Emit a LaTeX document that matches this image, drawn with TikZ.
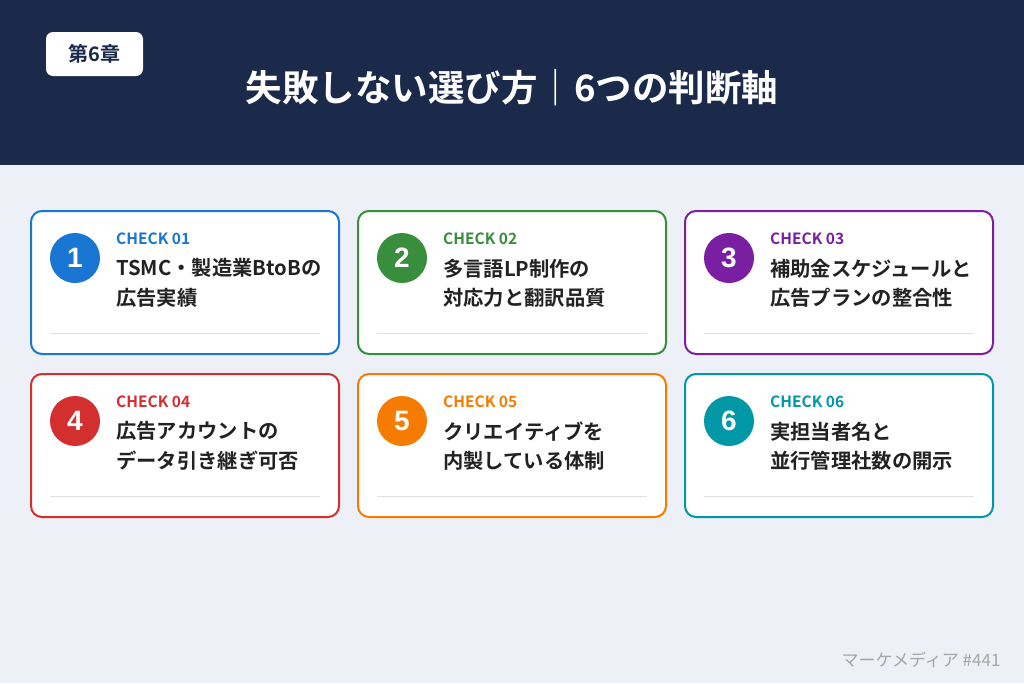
\documentclass[tikz,border=0pt]{standalone}
\usepackage{fontspec}
\setmainfont{Noto Sans CJK JP}
\newfontfamily\jpb{Noto Sans CJK JP Bold}
\newfontfamily\numf{Liberation Sans}
\begin{document}
\begin{tikzpicture}[x=1pt,y=-1pt,
  card/.style={draw=#1,line width=2pt,rounded corners=11pt,fill=white},
  numc/.style={circle,fill=#1,minimum size=50pt,inner sep=0pt,text=white,font=\numf\bfseries\fontsize{28}{28}\selectfont},
  chk/.style={anchor=west,text=#1,font=\jpb\fontsize{15.5}{15.5}\selectfont,inner sep=0pt},
  ttl/.style={anchor=north west,align=left,text=txt,font=\jpb\fontsize{20.3}{29.5}\selectfont,inner sep=0pt}]
\definecolor{navy}{HTML}{1B2A4A}
\definecolor{bg}{HTML}{EDF0F7}
\definecolor{txt}{HTML}{222222}
\definecolor{cA}{HTML}{1976D2}
\definecolor{cB}{HTML}{388E3C}
\definecolor{cC}{HTML}{7B1FA2}
\definecolor{cD}{HTML}{D32F2F}
\definecolor{cE}{HTML}{F57C00}
\definecolor{cF}{HTML}{0097A7}
\fill[bg] (0,0) rectangle (1024,683);
\useasboundingbox (0,0) rectangle (1024,683);
\fill[navy] (0,0) rectangle (1024,165);
\node[fill=white,rounded corners=7pt,minimum width=97pt,minimum height=44pt,text=navy,font=\jpb\fontsize{20}{20}\selectfont] (badge) at (94.5,54) {第6章};
\node[text=white,font=\jpb\fontsize{36.5}{36.5}\selectfont] (title) at (512,88) {失敗しない選び方｜6つの判断軸};
\foreach \i/\x/\y/\c/\n/\t in {
 1/31/211/cA/01/{TSMC・製造業BtoBの\\広告実績},
 2/358/211/cB/02/{多言語LP制作の\\対応力と翻訳品質},
 3/685/211/cC/03/{補助金スケジュールと\\広告プランの整合性},
 4/31/374/cD/04/{広告アカウントの\\データ引き継ぎ可否},
 5/358/374/cE/05/{クリエイティブを\\内製している体制},
 6/685/374/cF/06/{実担当者名と\\並行管理社数の開示}}{
 \draw[card=\c] (\x,\y) rectangle ++(308,143);
 \node[numc=\c] (n\i) at (\x+44,\y+47) {\i};
 \node[chk=\c] (k\i) at (\x+85,\y+28) {CHECK \n};
 \node[ttl] (t\i) at (\x+85,\y+47.5) {\t};
 \draw[black!12,line width=0.8pt] (\x+19,\y+122) -- (\x+289,\y+122);
}
\node[anchor=east,text=black!35,font=\fontsize{17}{17}\selectfont] (foot) at (1004,660) {マーケメディア \#441};
\end{tikzpicture}
\end{document}
